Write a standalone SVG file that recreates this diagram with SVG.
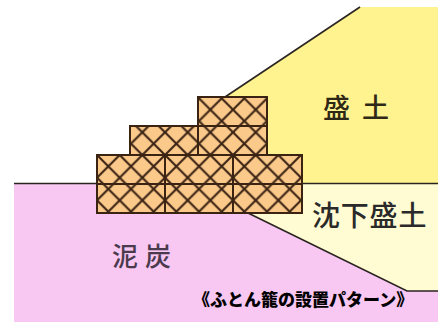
<svg xmlns="http://www.w3.org/2000/svg" width="438" height="322" viewBox="0 0 438 322">
  <style>
    .edge { fill: none; stroke: #2a2420; stroke-width: 1.6; }
    .box { fill: url(#mesh); stroke: #3b2314; stroke-width: 2; }
    .jp { font-family: "Noto Sans CJK JP", "Noto Sans", sans-serif; font-weight: 500; }
    .lbl { font-size: 27px; fill: #2e2816; }
  </style>
  <defs>
    <!-- wire mesh of the gabion baskets -->
    <pattern id="mesh" patternUnits="userSpaceOnUse" x="97" y="155" width="22.67" height="22.67">
      <rect width="22.67" height="22.67" fill="#fbc98a"/>
      <path d="M-2,-2 L24.67,24.67 M24.67,-2 L-2,24.67" stroke="#3b2314" stroke-width="2.1" fill="none"/>
    </pattern>
  </defs>

  <rect width="438" height="322" fill="#ffffff"/>

  <!-- ground layers -->
  <g id="peat">
    <rect x="14" y="184" width="424" height="138" fill="#f8c7f2"/>
  </g>
  <g id="embankment">
    <polygon points="360,7 438,7 438,184 200,184 200,113.7" fill="#fef38f"/>
  </g>
  <g id="settled-fill">
    <polygon points="230,184 438,184 438,291 407,291 248,213 230,213" fill="#fffbd2"/>
  </g>

  <!-- boundary lines -->
  <g id="connectors">
    <line class="edge" x1="14" y1="183.5" x2="438" y2="183.5"/>
    <polyline class="edge" points="225,97 360,7"/>
    <polyline class="edge" points="248,213 407,291 438,291"/>
  </g>

  <!-- gabion baskets -->
  <g id="gabion-b1"><rect class="box" x="97" y="155" width="68" height="58"/><line class="box" x1="97" y1="184" x2="165" y2="184"/></g>
  <g id="gabion-b2"><rect class="box" x="165" y="155" width="68" height="58"/><line class="box" x1="165" y1="184" x2="233" y2="184"/></g>
  <g id="gabion-b3"><rect class="box" x="233" y="155" width="69" height="58"/><line class="box" x1="233" y1="184" x2="302" y2="184"/></g>
  <g id="gabion-m1"><rect class="box" x="130" y="126" width="68" height="29"/></g>
  <g id="gabion-t1"><rect class="box" x="198" y="97" width="69" height="58"/><line class="box" x1="198" y1="126" x2="267" y2="126"/></g>

  <!-- labels -->
  <g id="label-fill"><text class="jp lbl" x="323 362" y="118">盛土</text></g>
  <g id="label-settled"><text class="jp" x="312" y="226" font-size="28" letter-spacing="0.8" fill="#2a2a2a">沈下盛土</text></g>
  <g id="label-peat"><text class="jp" x="112 145" y="266" font-size="26" fill="#4a3a4c">泥炭</text></g>
  <g id="caption"><text class="jp" x="193" y="306" font-size="17" style="font-weight:900" fill="#000000">《ふとん籠の設置パターン》</text></g>
</svg>
